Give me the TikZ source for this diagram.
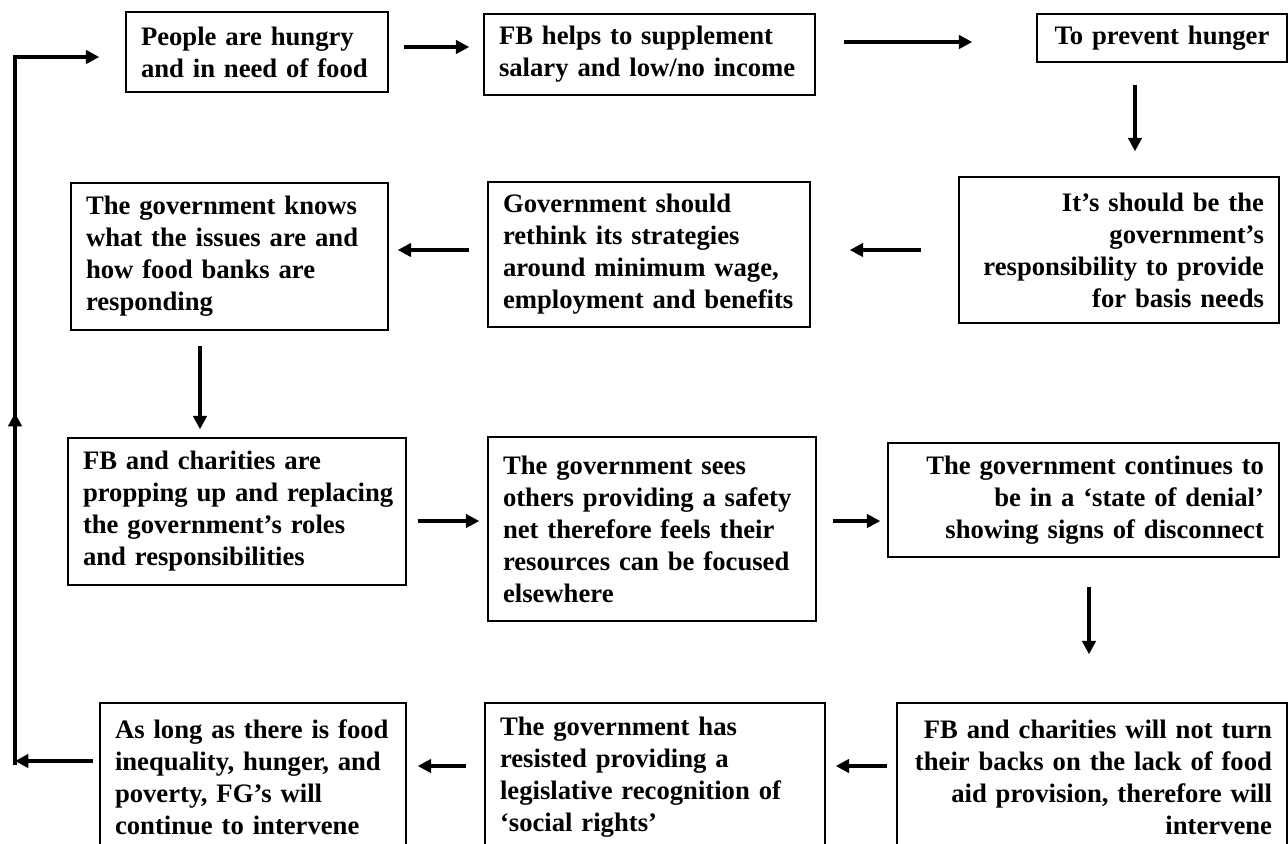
\documentclass[tikz,border=0pt]{standalone}
\usepackage{fontspec}
\setmainfont{Liberation Serif}
\usetikzlibrary{arrows.meta,calc}
\hyphenpenalty=10000
\exhyphenpenalty=10000
\begin{document}
\begin{tikzpicture}[x=0.75pt,y=-0.75pt,
  box/.style={draw, line width=1.1pt, inner xsep=11.25pt, inner ysep=0pt,
    font=\bfseries\fontsize{20}{24}\selectfont},
  arr/.style={line width=2.4pt, -{Triangle[length=10pt,width=10pt]}},
  loopline/.style={line width=2.9pt}]
\useasboundingbox (0,0) rectangle (1288,843);
\node[box, minimum width=196.5pt, minimum height=60pt, text width=174pt, align=left] (b1) at (257,52)
  {People are hungry\\and in need of food};
\node[box, minimum width=248.25pt, minimum height=60.75pt, text width=225.75pt, align=left] (b2) at (649.5,54.5)
  {FB helps to supplement\\salary and low/no income};
\node[box, minimum width=187.5pt, minimum height=36pt, text width=165pt, align=center] (b3) at (1162,38)
  {To prevent hunger};
\node[box, minimum width=240pt, minimum height=109.5pt, text width=217.5pt, align=right] (b4) at (1119,250)
  {It’s should be the\\government’s\\responsibility to provide\\for basis needs};
\node[box, minimum width=241.5pt, minimum height=108.75pt, text width=219pt, align=left] (b5) at (649,254.5)
  {Government should\\rethink its strategies\\around minimum wage,\\employment and benefits};
\node[box, minimum width=237.75pt, minimum height=110.25pt, text width=215.25pt, align=left] (b6) at (229.5,256.5)
  {The government knows\\what the issues are and\\how food banks are\\responding};
\node[box, minimum width=253.5pt, minimum height=110.25pt, text width=231pt, align=left] (b7) at (237,511.5)
  {FB and charities are\\\mbox{propping up and replacing}\\the government’s roles\\and responsibilities};
\node[box, minimum width=246pt, minimum height=138pt, text width=223.5pt, align=left] (b8) at (652,529)
  {The government sees\\others providing a safety\\net therefore feels their\\resources can be focused\\elsewhere};
\node[box, minimum width=293.25pt, minimum height=85.5pt, text width=270.75pt, align=right] (b9) at (1083.5,500)
  {The government continues to\\be in a ‘state of denial’\\showing signs of disconnect};
\node[box, minimum width=292.5pt, minimum height=111pt, text width=270pt, align=right] (b10) at (1092,777)
  {FB and charities will not turn\\their backs on the lack of food\\aid provision, therefore will\\intervene};
\node[box, minimum width=255pt, minimum height=111pt, text width=232.5pt, align=left] (b11) at (655,777)
  {The government has\\resisted providing a\\legislative recognition of\\‘social rights’};
\node[box, minimum width=229.5pt, minimum height=111pt, text width=207pt, align=left] (b12) at (253,777)
  {As long as there is food\\inequality, hunger, and\\poverty, FG’s will\\continue to intervene};
% connectors
\draw[arr] ($(b1.east)+(15,-5)$) -- ($(b2.west)+(-14,-7.5)$);
\draw[arr] ($(b2.east)+(28,-12.5)$) -- ($(b3.west)+(-64,4)$);
\draw[arr] ($(b3.south)+(-27,22)$) -- ($(b4.north)+(16,-25)$);
\draw[arr] ($(b4.west)+(-37,0)$) -- ($(b5.east)+(39,-4.5)$);
\draw[arr] ($(b5.west)+(-18,-4.5)$) -- ($(b6.east)+(9,-6.5)$);
\draw[arr] ($(b6.south)+(-29.5,15)$) -- ($(b7.north)+(-37,-8)$);
\draw[arr] ($(b7.east)+(11,9.5)$) -- ($(b8.west)+(-8,-8)$);
\draw[arr] ($(b8.east)+(16,-8)$) -- ($(b9.west)+(-7,21)$);
\draw[arr] ($(b9.south)+(5.5,29)$) -- ($(b10.north)+(-3,-48)$);
\draw[arr] ($(b10.west)+(-9,-11)$) -- ($(b11.east)+(10,-11)$);
\draw[arr] ($(b11.west)+(-18,-11)$) -- ($(b12.east)+(11,-11)$);
% feedback loop
\coordinate (lc1) at (15,761);
\coordinate (lbot) at (15,765);
\coordinate (lmid) at (15,413);
\coordinate (ltop) at (15,57);
\draw[arr, line width=2.6pt] ($(b12.west)+(-6,-16)$) -- (lc1);
\draw[loopline, -{Triangle[length=10pt,width=10pt]}] (lbot) -- (ltop) -- ($(b1.west)+(-26,5)$);
\draw[loopline, -{Triangle[length=10pt,width=10pt]}] (lbot) -- (lmid);
\end{tikzpicture}
\end{document}
